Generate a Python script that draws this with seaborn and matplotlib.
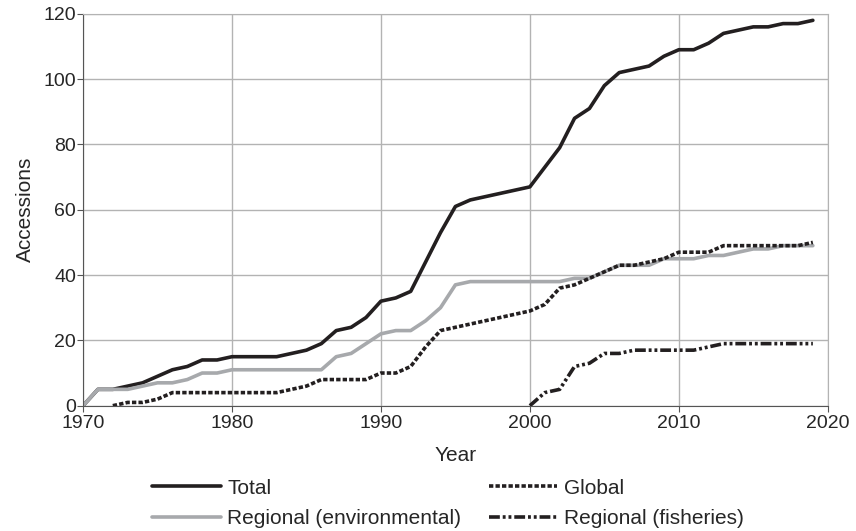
import matplotlib

matplotlib.use("Agg")
import matplotlib.pyplot as plt
import pandas as pd
import seaborn as sns

years = list(range(1970, 2020))

total = [0, 5, 5, 6, 7, 9, 11, 12, 14, 14,
         15, 15, 15, 15, 16, 17, 19, 23, 24, 27,
         32, 33, 35, 44, 53, 61, 63, 64, 65, 66,
         67, 73, 79, 88, 91, 98, 102, 103, 104, 107,
         109, 109, 111, 114, 115, 116, 116, 117, 117, 118]

regional_env = [0, 5, 5, 5, 6, 7, 7, 8, 10, 10,
                11, 11, 11, 11, 11, 11, 11, 15, 16, 19,
                22, 23, 23, 26, 30, 37, 38, 38, 38, 38,
                38, 38, 38, 39, 39, 41, 43, 43, 43, 45,
                45, 45, 46, 46, 47, 48, 48, 49, 49, 49]

global_years = list(range(1972, 2020))
global_ = [0, 1, 1, 2, 4, 4, 4, 4,
           4, 4, 4, 4, 5, 6, 8, 8, 8, 8,
           10, 10, 12, 18, 23, 24, 25, 26, 27, 28,
           29, 31, 36, 37, 39, 41, 43, 43, 44, 45,
           47, 47, 47, 49, 49, 49, 49, 49, 49, 50]

fish_years = list(range(2000, 2020))
fisheries = [0, 4, 5, 12, 13, 16, 16, 17, 17, 17,
             17, 17, 18, 19, 19, 19, 19, 19, 19, 19]

NAMES = ["Total", "Regional (environmental)", "Global", "Regional (fisheries)"]

df = pd.concat([
    pd.DataFrame({"Year": years, "Accessions": total, "series": NAMES[0]}),
    pd.DataFrame({"Year": years, "Accessions": regional_env, "series": NAMES[1]}),
    pd.DataFrame({"Year": global_years, "Accessions": global_, "series": NAMES[2]}),
    pd.DataFrame({"Year": fish_years, "Accessions": fisheries, "series": NAMES[3]}),
])

sns.set_style("ticks")
plt.rcParams["font.family"] = ["Liberation Sans", "DejaVu Sans"]
FS = 15

fig = plt.figure(figsize=(8.56, 5.31), dpi=100)
ax = fig.add_axes([0.097, 0.236, 0.870, 0.738])

palette = {NAMES[0]: "#231f20", NAMES[1]: "#a7a9ac", NAMES[2]: "#231f20", NAMES[3]: "#231f20"}
dashes = {NAMES[0]: "", NAMES[1]: "", NAMES[2]: (1.2, 0.6), NAMES[3]: (3.0, 0.8, 0.8, 0.8, 0.8, 0.8)}

sns.lineplot(df, x="Year", y="Accessions", hue="series", style="series",
             hue_order=NAMES, style_order=NAMES, palette=palette, dashes=dashes,
             lw=2.6, ax=ax)

ax.set_xlim(1970, 2020)
ax.set_ylim(0, 120)
ax.set_xticks(range(1970, 2021, 10))
ax.set_yticks(range(0, 121, 20))
ax.grid(True, color="#b3b3b3", lw=1)
for side in ["top", "right"]:
    ax.spines[side].set_color("#b3b3b3")
for side in ["left", "bottom"]:
    ax.spines[side].set_color("#555555")
ax.tick_params(labelsize=14, length=4, color="#555555")
ax.tick_params(axis="x", pad=3)
ax.tick_params(axis="y", pad=1)
ax.set_xlabel("Year", fontsize=FS, labelpad=10)
ax.set_ylabel("Accessions", fontsize=FS, labelpad=6)

sns.move_legend(ax, "upper center", bbox_to_anchor=(0.49, -0.138), ncol=2, frameon=False,
                title=None, fontsize=FS, handlelength=3.3, columnspacing=1.3, labelspacing=0.55,
                handletextpad=0.3)

fig.savefig("out.png", dpi=100)
